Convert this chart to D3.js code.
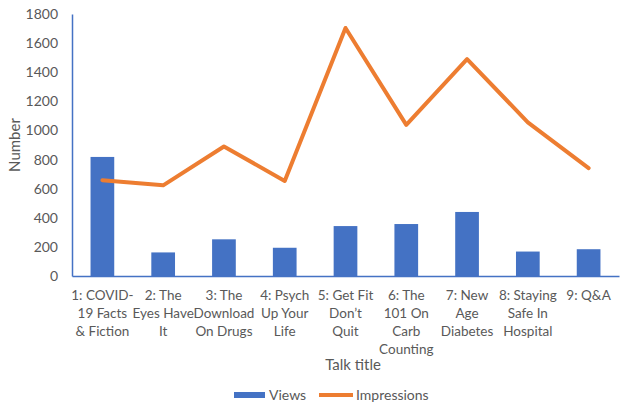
<!DOCTYPE html>
<html><head><meta charset="utf-8">
<script src="https://cdn.jsdelivr.net/npm/d3@7"></script>
<style>body{margin:0;background:#fff}svg{display:block}text{font-family:Lato,"Liberation Sans",Arial,sans-serif}</style>
</head><body><svg id="c" width="625" height="410"></svg>
<script>
const categories = ["1: COVID-\n19 Facts\n& Fiction","2: The\nEyes Have\nIt","3: The\nDownload\nOn Drugs","4: Psych\nUp Your\nLife","5: Get Fit\nDon\u2019t\nQuit","6: The\n101 On\nCarb\nCounting","7: New\nAge\nDiabetes","8: Staying\nSafe In\nHospital","9: Q&A"];
const views = [818, 162, 252, 194, 343, 357, 440, 168, 184];
const impressions = [658, 623, 890, 653, 1704, 1038, 1490, 1056, 741];
const yTicks = [0,200,400,600,800,1000,1200,1400,1600,1800];
const seriesNames = ["Views","Impressions"];

const svg = d3.select("#c");
const m = {l:72, r:6, t:14, b:134};
const W = 625, H = 410;
const x = d3.scaleBand().domain(categories).range([m.l, W-m.r]).paddingInner(0.61).paddingOuter(0.305);
const y = d3.scaleLinear().domain([0,1800]).range([H-m.b, m.t]);
const blue = "#4472C4", orange = "#ED7D31", grey = "#595959";
const FF = "Lato, Liberation Sans, Arial, sans-serif";

// bars
svg.append("g").selectAll("rect").data(views).join("rect")
  .attr("x",(d,i)=>x(categories[i])).attr("width",x.bandwidth())
  .attr("y",d=>y(d)).attr("height",d=>y(0)-y(d)).attr("fill",blue);

// line
const line = d3.line().x((d,i)=>x(categories[i])+x.bandwidth()/2).y(d=>y(d));
svg.append("path").datum(impressions).attr("d",line).attr("fill","none")
  .attr("stroke",orange).attr("stroke-width",4).attr("stroke-linejoin","round").attr("stroke-linecap","round");

// y axis
const ya = svg.append("g").attr("transform",`translate(${m.l},0)`)
  .call(d3.axisLeft(y).tickValues(yTicks).tickSize(0).tickPadding(14).tickFormat(d3.format("d")));
ya.select(".domain").attr("stroke",blue).attr("stroke-width",1.5);
ya.selectAll("text").attr("fill",grey).attr("font-size",14).style("font-family",FF);

// x axis
const xa = svg.append("g").attr("transform",`translate(0,${y(0)})`)
  .call(d3.axisBottom(x).tickSize(0).tickFormat(""));
xa.select(".domain").attr("stroke",blue).attr("stroke-width",1.5);
xa.selectAll(".tick").each(function(d){
  const t = d3.select(this).append("text").attr("fill",grey).attr("font-size",13.5)
    .style("font-family",FF).attr("text-anchor","middle").attr("y",24);
  d.split("\n").forEach((s,i)=>t.append("tspan").attr("x",0).attr("dy",i?18:0).text(s));
});

// axis titles
svg.append("text").attr("transform","translate(20,145) rotate(-90)").attr("text-anchor","middle")
  .attr("fill",grey).attr("font-size",15).text("Number");
svg.append("text").attr("x",353).attr("y",370).attr("text-anchor","middle")
  .attr("fill",grey).attr("font-size",15).text("Talk title");

// legend
const lg = svg.append("g");
lg.append("rect").attr("x",234).attr("y",392).attr("width",31).attr("height",6).attr("fill",blue);
lg.append("text").attr("x",269).attr("y",400).attr("fill",grey).attr("font-size",14).text(seriesNames[0]);
lg.append("line").attr("x1",319).attr("x2",353).attr("y1",395).attr("y2",395).attr("stroke",orange).attr("stroke-width",4);
lg.append("text").attr("x",356).attr("y",400).attr("fill",grey).attr("font-size",14).text(seriesNames[1]);
</script></body></html>
